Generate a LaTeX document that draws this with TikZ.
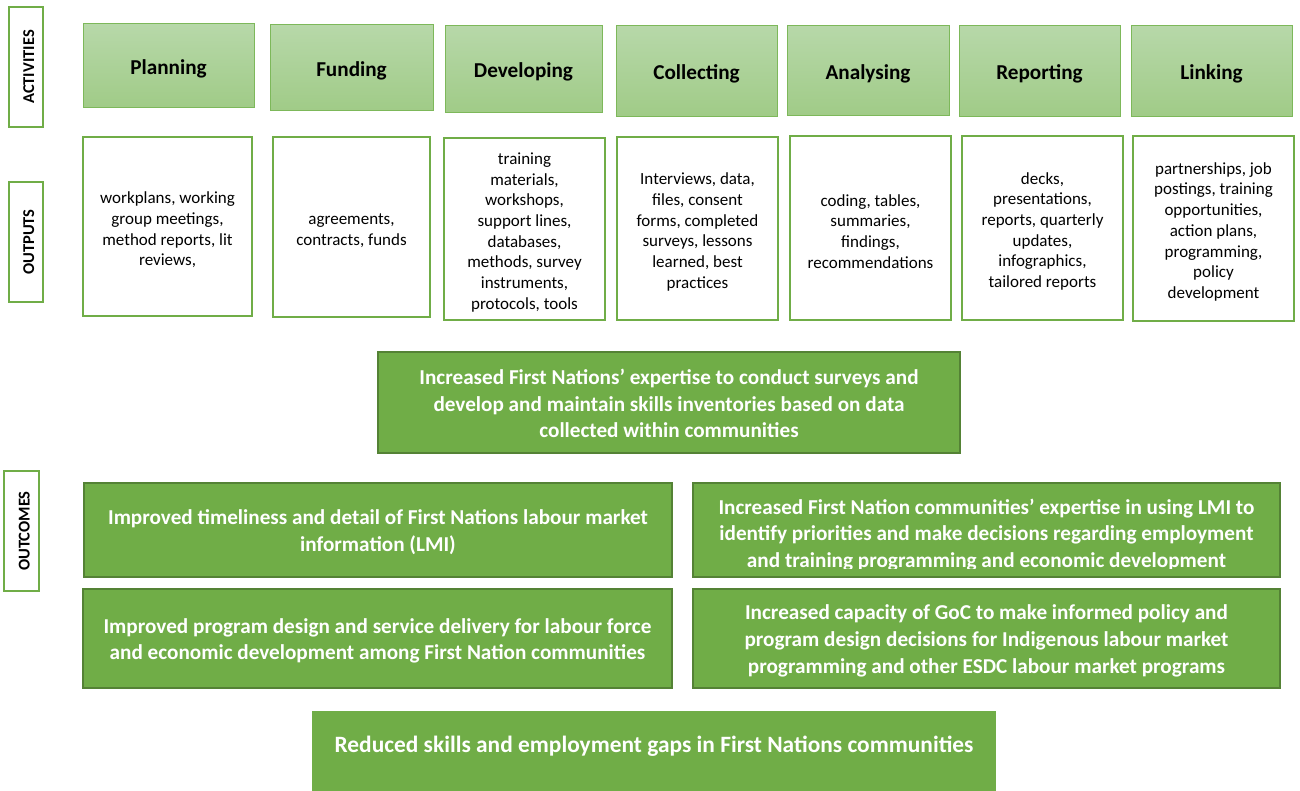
\documentclass[tikz,border=0pt]{standalone}
\usepackage{fontspec}
\setmainfont{Carlito}
\definecolor{lgreen}{HTML}{70AD47}
\definecolor{actborder}{HTML}{7DB85A}
\definecolor{acttop}{HTML}{B7D8A9}
\definecolor{actbot}{HTML}{A0CB87}
\definecolor{mgreen}{HTML}{70AD47}
\definecolor{dgreen}{HTML}{548235}
% taller first line, so that a block of lines sits a little lower in its box
\newcommand\outgap{\rule{0pt}{18.5pt}}
\newcommand\resgap{\rule{0pt}{19.5pt}}
\begin{document}
\begin{tikzpicture}[x=1pt,y=-1pt,
  sidelabel/.style={draw=lgreen, line width=2pt, fill=white, rotate=90,
    minimum width=120pt, font=\fontsize{16.5}{20}\selectfont\bfseries, inner sep=0pt,
    text height=16pt, text depth=0pt},
  activity/.style={draw=actborder, line width=1pt, top color=acttop, bottom color=actbot,
    font=\fontsize{21.2}{24}\selectfont\bfseries, inner sep=0pt,
    text height=21.5pt, text depth=4.6pt},
  output/.style={draw=lgreen, line width=2pt, fill=white, align=center,
    font=\fontsize{17}{20.7}\selectfont, inner sep=0pt},
  outcome/.style={draw=dgreen, line width=1.5pt, fill=mgreen, text=white, align=center,
    font=\fontsize{21.2}{26.6}\selectfont\bfseries, inner sep=0pt},
  outcometext/.style={text=white, align=center, inner sep=0pt,
    font=\fontsize{21.2}{26.6}\selectfont\bfseries},
]
\useasboundingbox (0,0) rectangle (1300,791);
\fill[white] (0,0) rectangle (1300,791);

% row labels
\node[sidelabel, minimum height=34pt] (lblact) at (26,67) {ACTIVITIES};
\node[sidelabel, minimum height=34pt] (lblout) at (26,242) {OUTPUTS};
\node[sidelabel, minimum height=35pt] (lbloutc) at (21.5,531) {OUTCOMES};

% activities
\node[activity, minimum width=171pt, minimum height=84pt] (planning)   at (168.5,66)   {Planning};
\node[activity, minimum width=163pt, minimum height=86pt] (funding)    at (351.5,68)   {Funding};
\node[activity, minimum width=157pt, minimum height=87pt] (developing) at (523.5,69.5) {Developing};
\node[activity, minimum width=161pt, minimum height=91pt] (collecting) at (696.5,71.5) {Collecting};
\node[activity, minimum width=162pt, minimum height=90pt] (analysing)  at (868,71)     {Analysing};
\node[activity, minimum width=161pt, minimum height=91pt] (reporting)  at (1039.5,71.5) {Reporting};
\node[activity, minimum width=161pt, minimum height=91pt] (linking)    at (1211.5,71.5) {Linking};

% outputs
\node[output, minimum width=169pt, minimum height=179pt] (oplanning) at (167.5,226.5)
  {\outgap workplans, working\\group meetings,\\method reports, lit\\reviews,};
\node[output, minimum width=157pt, minimum height=180pt] (ofunding) at (351.5,227)
  {\outgap agreements,\\contracts, funds};
\node[output, minimum width=161pt, minimum height=182pt] (odeveloping) at (524.5,229)
  {\outgap training\\materials,\\workshops,\\support lines,\\databases,\\methods, survey\\instruments,\\protocols, tools};
\node[output, minimum width=161pt, minimum height=183pt] (ocollecting) at (697.5,228.5)
  {\outgap Interviews, data,\\files, consent\\forms, completed\\surveys, lessons\\learned, best\\practices};
\node[output, minimum width=161pt, minimum height=184pt] (oanalysing) at (870.5,228)
  {\outgap coding, tables,\\summaries,\\findings,\\recommendations};
\node[output, minimum width=161pt, minimum height=184pt] (oreporting) at (1042.5,228)
  {\outgap decks,\\presentations,\\reports, quarterly\\updates,\\infographics,\\tailored reports};
\node[output, minimum width=161pt, minimum height=185pt] (olinking) at (1213.5,228.5)
  {\outgap partnerships, job\\postings, training\\opportunities,\\action plans,\\programming,\\policy\\development};

% outcomes
\node[outcome, minimum width=582pt, minimum height=101pt] (expertise) at (669,402.5)
  {\rule{0pt}{17.5pt}Increased First Nations’ expertise to conduct surveys and\\develop and maintain skills inventories based on data\\collected within communities};
\node[outcome, minimum width=588pt, minimum height=94pt] (timeliness) at (378,530)
  {\resgap Improved timeliness and detail of First Nations labour market\\information (LMI)};
\node[outcome, minimum width=587pt, minimum height=94pt] (lmiuse) at (986.5,530) {};
% the text of this box runs past its lower edge and is cut off there
\begin{scope}
  \clip (693,483) rectangle (1280,568);
  \node[outcometext] at (986.5,535)
    {Increased First Nation communities’ expertise in using LMI to\\identify priorities and make decisions regarding employment\\and training programming and economic development};
\end{scope}
\node[outcome, minimum width=589pt, minimum height=99pt] (design) at (377.5,638.5)
  {\resgap Improved program design and service delivery for labour force\\and economic development among First Nation communities};
\node[outcome, minimum width=587pt, minimum height=99pt] (capacity) at (986.5,638.5)
  {\resgap Increased capacity of GoC to make informed policy and\\program design decisions for Indigenous labour market\\programming and other ESDC labour market programs};
\node[outcome, draw=none, minimum width=684pt, minimum height=82pt,
  font=\fontsize{23.4}{28}\selectfont\bfseries, text height=5pt, text depth=5pt] (gaps) at (654,752)
  {Reduced skills and employment gaps in First Nations communities};
\end{tikzpicture}
\end{document}
